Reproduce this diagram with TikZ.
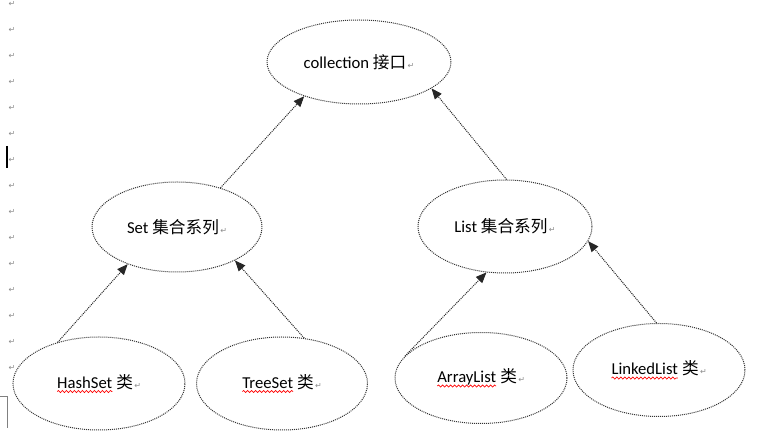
\documentclass[tikz,border=0pt]{standalone}
\usepackage{fontspec}
\setmainfont{Carlito}
\newfontfamily\zhfont{Noto Sans CJK SC}
\newfontfamily\markfont{DejaVu Sans}
\usetikzlibrary{shapes.geometric, arrows.meta, decorations.pathmorphing}

% return mark and red spelling wave
\newcommand\pmark{{\markfont\fontsize{6}{6}\selectfont\color{black!45}\,↵}}
\newcommand\redwave[1]{\tikz[baseline=(w.base)]{\node[rectangle, draw=none, minimum size=0pt,
        inner sep=0pt, outer sep=0pt] (w) {#1};
    \draw[red, solid, line width=0.5pt, decorate, decoration={snake, amplitude=0.8pt, segment length=3pt}]
        ([yshift=-2.6pt]w.base west) -- ([yshift=-2.6pt]w.base east);}}

\begin{document}
\begin{tikzpicture}[x=0.75pt,y=-0.75pt,font=\fontsize{12.5}{14}\selectfont,
    cls/.style={draw=black!80, ellipse, line width=0.75pt,
        dash pattern=on 0.75pt off 0.75pt, inner sep=0pt,
        minimum width=129pt, minimum height=69.75pt},
    arr/.style={draw=black!85, line width=0.75pt,
        dash pattern=on 0.75pt off 0.75pt,
        -{Triangle[length=8pt,width=6.5pt]}}]

\useasboundingbox (0,0) rectangle (769,441);

% margin marks
\foreach \k in {0,...,14}
    \node[text=black!45, font=\markfont\fontsize{6}{6}\selectfont] (pm\k) at (12,4+26*\k) {↵};
\draw[line width=1pt] (7,146) -- (7,168);
\draw[black!50, line width=0.75pt] (0,397) -- (7,397) -- (7,428);

% Interface
\node[cls,
    minimum width=138pt,
    minimum height=63pt] (coll) at (359,62) {collection {\zhfont 接口}\pmark};

% Series
\node[cls,
    minimum width=127.5pt,
    minimum height=67.5pt] (set) at (177,227) {Set {\zhfont 集合系列}\pmark};
\node[cls,
    minimum width=130.5pt] (list) at (505,226.5) {List {\zhfont 集合系列}\pmark};

% Classes
\node[cls] (hashset) at (99,383.5) {\redwave{HashSet} {\zhfont 类}\pmark};
\node[cls,
    minimum width=128.25pt] (treeset) at (282,383.5) {\redwave{TreeSet} {\zhfont 类}\pmark};
\node[cls,
    minimum height=68.25pt] (arraylist) at (481,378) {\redwave{ArrayList} {\zhfont 类}\pmark};
\node[cls] (linkedlist) at (659,370) {\redwave{LinkedList} {\zhfont 类}\pmark};

% Arrows
\draw[arr] (set.42) -- (coll.212);
\draw[arr] (list.88) -- (coll.340);
\draw[arr] (hashset.135) -- (set.217);
\draw[arr] (treeset.64) -- (set.330);
\draw[arr] (arraylist.164) -- (list.248);
\draw[arr] (linkedlist.93) -- (list.350);

\end{tikzpicture}
\end{document}
